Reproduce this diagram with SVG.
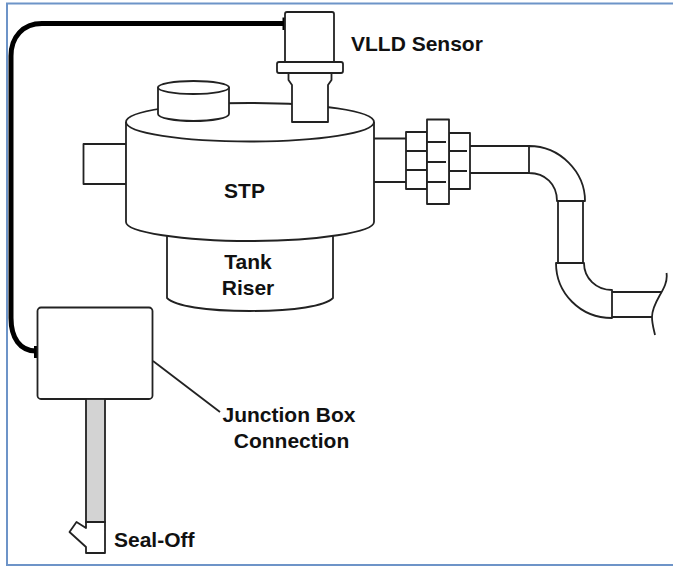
<svg xmlns="http://www.w3.org/2000/svg" width="673" height="567" viewBox="0 0 673 567">
<style>
.l{fill:none;stroke:#222;stroke-width:1.8;stroke-linejoin:round}
.w{fill:#fff;stroke:#222;stroke-width:1.8;stroke-linejoin:round}
.t{font-family:"Liberation Sans",Arial,sans-serif;font-weight:700;font-size:21px;fill:#111}
.m{text-anchor:middle}
</style>
<rect width="673" height="567" fill="#fff"/>
<path id="frame" d="M674 3.500H7V565H674" fill="none" stroke="#6d94c8" stroke-width="2"/>
<g id="connectors">
<path d="M284 23.500H42C23 23.500 11 37 11 56V318C11 338 20 351 36 351" fill="none" stroke="#000" stroke-width="5"/>
<path d="M284 17.500V30M35.500 346V358" fill="none" stroke="#000" stroke-width="3"/>
<path d="M153 361L220 412" class="l"/>
</g>
<g id="tank-riser">
<path d="M167 236V298C175 306 205 311 250 311C295 311 325 306 333 298V236" class="w"/>
<text x="248" y="269" class="t m">Tank</text>
<text x="248" y="295" class="t m">Riser</text>
</g>
<g id="left-stub"><rect x="83.500" y="144" width="43" height="40" class="w"/></g>
<g id="pipe-stub"><path d="M374 138.500H406M374 182H406" class="l"/></g>
<g id="stp">
<path d="M126 122C126 111 182 103 250 103C318 103 374 111 374 122V222C374 232 318 241 250 241C182 241 126 232 126 222Z" class="w"/>
<path d="M126 122C126 133 182 141.500 250 141.500C318 141.500 374 133 374 122" class="l"/>
<text x="244.500" y="198" class="t m">STP</text>
</g>
<g id="cap">
<path d="M158 87.500V114C158 118 175 121 193.500 121C212 121 229 118 229 114V87.500Z" class="w"/>
<ellipse cx="193.500" cy="87.500" rx="35.500" ry="6.500" class="w"/>
</g>
<g id="vlld-sensor">
<path d="M292 122V85L288.500 80V73H331.500V80L328 85V122Z" class="w"/>
<path d="M285 62V14Q285 12 287 12H332Q334 12 334 14V62Z" class="w"/>
<rect x="277" y="62" width="66" height="11" rx="2" class="w"/>
<text x="351" y="51" class="t">VLLD Sensor</text>
</g>
<g id="coupling">
<rect x="406" y="132" width="21" height="57" class="w"/>
<rect x="449" y="133" width="21" height="56" class="w"/>
<rect x="427" y="119.500" width="22" height="84.500" class="w"/>
<path d="M406 151H427M406 170H427M427 142H446M427 162H446M427 182H446M449 151H467M449 171H467" class="l"/>
</g>
<g id="pipe">
<path d="M470 146H529M470 173H529M529 146V173M529 146C560 146 585 172 585 201H557C557 184 545 173 529 173M558 201V263M583 201V263M556 263H584C584 278 596 290 612 290V318C580 318 556 293 556 263ZM612 292H662M612 317H652M666.500 273C669 289 652 300 652 317C652 324 654 330 655 335" class="l"/>
</g>
<g id="junction-box">
<rect x="37.500" y="307.500" width="115" height="91.500" rx="3.500" class="w"/>
</g>
<g id="seal-off">
<rect x="86" y="399" width="19" height="123" fill="#d3d3d3" stroke="#222" stroke-width="1.800"/>
<path d="M86 522H105V553H86V547L69.500 532L76.500 522L86 528Z" class="w"/>
<text x="114" y="547" class="t">Seal-Off</text>
</g>
<g id="labels">
<text x="289" y="422" class="t m">Junction Box</text>
<text x="291.500" y="448" class="t m">Connection</text>
</g>
</svg>
